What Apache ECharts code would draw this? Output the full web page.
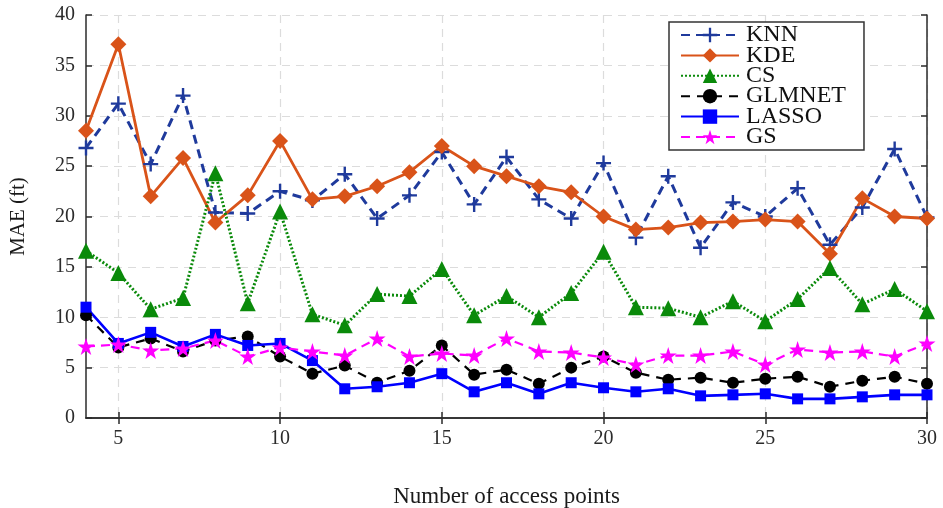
<!DOCTYPE html>
<html>
<head>
<meta charset="utf-8">
<script src="https://cdn.jsdelivr.net/npm/echarts@6/dist/echarts.min.js"></script>
<style>
html,body{margin:0;padding:0;background:#fff;}
#c{width:943px;height:508px;}
</style>
</head>
<body>
<div id="c"></div>
<script>
const categories = ['4','5','6','7','8','9','10','11','12','13','14','15','16','17','18','19','20','21','22','23','24','25','26','27','28','29','30'];
const knn    = [26.8,31.2,25.2,32.0,20.4,20.3,22.5,21.6,24.2,19.8,22.1,26.4,21.2,25.9,21.7,19.8,25.3,17.9,24.0,16.9,21.4,20.0,22.8,17.2,20.9,26.7,19.9];
const kde    = [28.5,37.1,22.0,25.8,19.4,22.1,27.5,21.7,22.0,23.0,24.4,27.0,25.0,24.0,23.0,22.4,20.0,18.7,18.9,19.4,19.5,19.7,19.5,16.3,21.8,20.0,19.8];
const cs     = [16.6,14.4,10.8,11.9,24.3,11.4,20.5,10.3,9.2,12.3,12.1,14.8,10.2,12.1,10.0,12.4,16.5,11.0,10.9,10.0,11.6,9.6,11.8,14.9,11.3,12.8,10.6];
const glmnet = [10.2,7.0,7.9,6.6,7.7,8.1,6.1,4.4,5.2,3.5,4.7,7.2,4.3,4.8,3.4,5.0,6.1,4.5,3.8,4.0,3.5,3.9,4.1,3.1,3.7,4.1,3.4];
const lasso  = [11.0,7.4,8.5,7.1,8.3,7.2,7.4,5.7,2.9,3.1,3.5,4.4,2.6,3.5,2.4,3.5,3.0,2.6,2.9,2.2,2.3,2.4,1.9,1.9,2.1,2.3,2.3];
const gs     = [7.1,7.3,6.7,6.9,7.7,6.1,7.0,6.6,6.2,7.9,6.1,6.4,6.2,7.9,6.6,6.5,6.0,5.3,6.2,6.2,6.6,5.3,6.8,6.5,6.6,6.1,7.4];
const seriesNames = ['KNN','KDE','CS','GLMNET','LASSO','GS'];
const yTicks = [0,5,10,15,20,25,30,35,40];

const FONT = '"Liberation Serif", "DejaVu Serif", serif';
const AXC = '#2b2b2b';
const plusPath = 'path://M4.2,0 H5.8 V4.2 H10 V5.8 H5.8 V10 H4.2 V5.8 H0 V4.2 H4.2 Z';
const starPath = 'path://M50,0 L61.8,35.3 L99,35.3 L68.9,57.3 L80.4,92.7 L50,70.9 L19.6,92.7 L31.1,57.3 L1,35.3 L38.2,35.3 Z';
const every5 = (i, v) => (+categories[i]) % 5 === 0;

const chart = echarts.init(document.getElementById('c'), null, {renderer:'canvas'});

function mk(name, data, color, symbol, size, lineType, width) {
  return {
    name, type:'line', data, symbol, symbolSize:size,
    xAxisIndex:0, yAxisIndex:0,
    lineStyle:{color, width, type:lineType},
    itemStyle:{color, borderWidth:0},
    emphasis:{disabled:true},
    animation:false
  };
}

const option = {
  animation:false,
  backgroundColor:'#ffffff',
  grid:{left:86, right:16, top:15, bottom:90, containLabel:false, outerBoundsMode:'none'},
  legend:{
    orient:'vertical', left:669, top:22,
    padding:[1,18,1,11], itemGap:-3.6, itemWidth:58, itemHeight:18,
    backgroundColor:'#fff', borderColor:'#333', borderWidth:1.5,
    textStyle:{fontFamily:FONT, fontSize:24, color:'#111', padding:[0,0,0,2]},
    data:seriesNames
  },
  xAxis:[{
    type:'category', data:categories, boundaryGap:false,
    name:'Number of access points', nameLocation:'middle', nameGap:67,
    nameTextStyle:{fontFamily:FONT, fontSize:23, color:'#1a1a1a'},
    axisLine:{lineStyle:{color:AXC, width:1.5}},
    axisTick:{inside:true, length:6, interval:every5, lineStyle:{color:AXC, width:1.5}},
    axisLabel:{interval:every5, fontFamily:FONT, fontSize:20, color:'#2b2b2b', margin:11},
    splitLine:{show:true, interval:every5, lineStyle:{color:'#dcdcdc', type:[8,6], width:1.2}}
  },{
    type:'category', data:categories, boundaryGap:false, position:'top',
    axisLine:{lineStyle:{color:AXC, width:1.5}},
    axisTick:{inside:true, length:6, interval:every5, lineStyle:{color:AXC, width:1.5}},
    axisLabel:{show:false}, splitLine:{show:false}
  }],
  yAxis:[{
    type:'value', min:0, max:40, interval:5,
    name:'MAE (ft)', nameLocation:'middle', nameGap:57, nameRotate:90,
    nameTextStyle:{fontFamily:FONT, fontSize:21, color:'#1a1a1a'},
    axisLine:{show:true, lineStyle:{color:AXC, width:1.5}},
    axisTick:{show:true, inside:true, length:6, lineStyle:{color:AXC, width:1.5}},
    axisLabel:{fontFamily:FONT, fontSize:20, color:'#2b2b2b', margin:11,
      formatter:(v)=> yTicks.includes(v) ? String(v) : ''},
    splitLine:{show:true, lineStyle:{color:'#dcdcdc', type:[8,6], width:1.2}}
  },{
    type:'value', min:0, max:40, interval:5, position:'right',
    axisLine:{show:true, lineStyle:{color:AXC, width:1.5}},
    axisTick:{show:true, inside:true, length:6, lineStyle:{color:AXC, width:1.5}},
    axisLabel:{show:false}, splitLine:{show:false}
  }],
  series:[
    mk('KNN', knn, '#1f3a9c', plusPath, 15, [9,6], 3),
    mk('KDE', kde, '#d95319', 'diamond', 16, 'solid', 2.8),
    mk('CS', cs, '#0a8a0a', 'triangle', 16, [2,2], 3),
    mk('GLMNET', glmnet, '#000000', 'circle', 12, [9,7], 2.2),
    mk('LASSO', lasso, '#0000ff', 'rect', 11, 'solid', 2.6),
    mk('GS', gs, '#ff00ff', starPath, 17, [9,6], 2.2)
  ]
};
chart.setOption(option);
</script>
</body>
</html>
